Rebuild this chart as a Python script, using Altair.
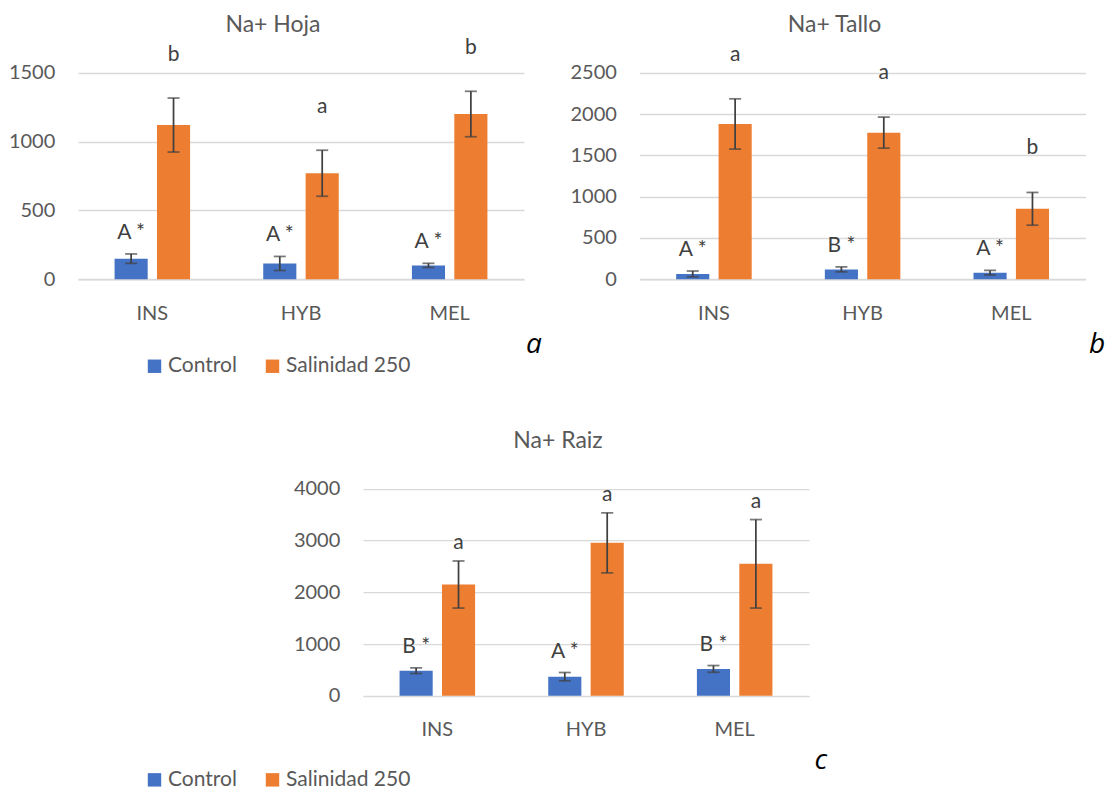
import altair as alt
import pandas as pd

categories = ["INS", "HYB", "MEL"]
series = ["Control", "Salinidad 250"]
colors = ["#4472C4", "#ED7D31"]

# Na+ Hoja
hoja_control = [150, 115, 101]
hoja_control_err = [34, 51, 15]
hoja_salt = [1120, 770, 1200]
hoja_salt_err = [196, 167, 165]
hoja_control_letters = ["A *", "A *", "A *"]
hoja_salt_letters = ["b", "a", "b"]
hoja_ticks = [0, 500, 1000, 1500]

# Na+ Tallo
tallo_control = [65, 120, 80]
tallo_control_err = [35, 30, 28]
tallo_salt = [1880, 1775, 853]
tallo_salt_err = [304, 188, 198]
tallo_control_letters = ["A *", "B *", "A *"]
tallo_salt_letters = ["a", "a", "b"]
tallo_ticks = [0, 500, 1000, 1500, 2000, 2500]

# Na+ Raiz
raiz_control = [485, 370, 520]
raiz_control_err = [55, 80, 65]
raiz_salt = [2150, 2955, 2550]
raiz_salt_err = [455, 580, 855]
raiz_control_letters = ["B *", "A *", "B *"]
raiz_salt_letters = ["a", "a", "a"]
raiz_ticks = [0, 1000, 2000, 3000, 4000]

FONT = "Lato"
GREY = "#595959"
DARK = "#404040"
W = 446


def panel(title, ctrl, ctrl_err, salt, salt_err, ctrl_lab, salt_lab, ticks,
          ymax, height, salt_dy, title_y, tag, tag_dx, tag_y, legend_y):
    rows = []
    for i, c in enumerate(categories):
        rows.append(dict(cat=c, serie=series[0], v=ctrl[i],
                         lo=ctrl[i] - ctrl_err[i], hi=ctrl[i] + ctrl_err[i],
                         lab=ctrl_lab[i]))
        rows.append(dict(cat=c, serie=series[1], v=salt[i],
                         lo=salt[i] - salt_err[i], hi=salt[i] + salt_err[i],
                         lab=salt_lab[i]))
    df = pd.DataFrame(rows)

    xaxis = alt.Axis(title=None, labelAngle=0, ticks=False, tickSize=0,
                     labelPadding=23.8, domainColor="#D9D9D9", domainWidth=1.3,
                     labelFont=FONT, labelFontSize=20, labelColor=GREY, grid=False)
    x = alt.X("cat:N", sort=categories, axis=xaxis,
              scale=alt.Scale(paddingInner=0.492, paddingOuter=0.246))
    xo = alt.XOffset("serie:N", sort=series,
                     scale=alt.Scale(domain=series, paddingInner=0.219, paddingOuter=0))
    yscale = alt.Scale(domain=[0, ymax], nice=False, zero=True)
    yaxis = alt.Axis(title=None, values=ticks, ticks=False, tickSize=0, domain=False,
                     labelPadding=23.2, labelFont=FONT, labelFontSize=20,
                     labelColor=GREY, gridColor="#D9D9D9", gridWidth=1.3, format="d")

    base = alt.Chart(df)
    bars = base.mark_bar().encode(
        x=x, xOffset=xo,
        y=alt.Y("v:Q", scale=yscale, axis=yaxis),
        color=alt.Color("serie:N", sort=series,
                        scale=alt.Scale(domain=series, range=colors),
                        legend=alt.Legend(orient="none", legendX=66, legendY=legend_y,
                                          direction="horizontal", title=None,
                                          symbolType="square", symbolSize=180,
                                          symbolStrokeWidth=0, labelFont=FONT,
                                          labelFontSize=21, labelColor=GREY,
                                          columnPadding=25, labelOffset=3, padding=0)),
    )
    err = base.mark_rule(color=DARK, strokeWidth=1.75).encode(
        x=x, xOffset=xo,
        y=alt.Y("lo:Q", scale=yscale, axis=yaxis), y2="hi:Q")
    cap_hi = base.mark_tick(color=DARK, orient="horizontal", size=12, thickness=1.75).encode(
        x=x, xOffset=xo, y=alt.Y("hi:Q", scale=yscale, axis=yaxis))
    cap_lo = base.mark_tick(color=DARK, orient="horizontal", size=12, thickness=1.75).encode(
        x=x, xOffset=xo, y=alt.Y("lo:Q", scale=yscale, axis=yaxis))
    lab_c = base.transform_filter(alt.datum.serie == series[0]).mark_text(
        font=FONT, fontSize=21, color=DARK, baseline="alphabetic", dy=-15).encode(
        x=x, xOffset=xo, y=alt.Y("hi:Q", scale=yscale, axis=yaxis), text="lab:N")
    lab_s = base.transform_filter(alt.datum.serie == series[1]).mark_text(
        font=FONT, fontSize=21, color=DARK, baseline="alphabetic", dy=-salt_dy).encode(
        x=x, xOffset=xo, y=alt.Y("hi:Q", scale=yscale, axis=yaxis), text="lab:N")
    deco = pd.DataFrame({"t": [tag], "title": [title]})
    tag_layer = alt.Chart(deco).mark_text(
        font="Open Sans", fontSize=28, fontStyle="italic", color="black",
        align="left", baseline="alphabetic").encode(
        x=alt.value(W + tag_dx), y=alt.value(tag_y), text="t:N")
    title_layer = alt.Chart(deco).mark_text(
        font=FONT, fontSize=23, color=GREY, align="center", baseline="alphabetic").encode(
        x=alt.value(W / 2 - 28), y=alt.value(title_y), text="title:N")

    return alt.layer(bars, err, cap_hi, cap_lo, lab_c, lab_s, tag_layer, title_layer).properties(
        width=W, height=height)


p1 = panel("Na+ Hoja", hoja_control, hoja_control_err, hoja_salt, hoja_salt_err,
           hoja_control_letters, hoja_salt_letters, hoja_ticks,
           1810, 249.3, 37, 2.3, "a", 2, 323, 325.5)
p2 = panel("Na+ Tallo", tallo_control, tallo_control_err, tallo_salt, tallo_salt_err,
           tallo_control_letters, tallo_salt_letters, tallo_ticks,
           3017, 249.3, 38, 2.3, "b", 3.5, 323, 325.5)
p3 = panel("Na+ Raiz", raiz_control, raiz_control_err, raiz_salt, raiz_salt_err,
           raiz_control_letters, raiz_salt_letters, raiz_ticks,
           4361, 225.7, 12, -21.7, "c", 5.5, 299, 299)

SPW = 284.5
spacer = alt.Chart(pd.DataFrame({"s": [0]})).mark_rect(opacity=0).encode(
    x=alt.value(0), x2=alt.value(SPW), y=alt.value(0), y2=alt.value(1)
).properties(width=SPW, height=225.7)

top = alt.hconcat(p1, p2, spacing=115.6, bounds="flush")
bottom = alt.hconcat(spacer, p3, spacing=0, bounds="flush")
chart = alt.vconcat(top, bottom, spacing=53.1).resolve_scale(
    color="independent").properties(
    padding={"left": 0, "top": 6, "right": 0, "bottom": 0}, background="white"
).configure_view(stroke=None)

chart.save("out.html", embed_options={"renderer": "svg", "actions": False})
